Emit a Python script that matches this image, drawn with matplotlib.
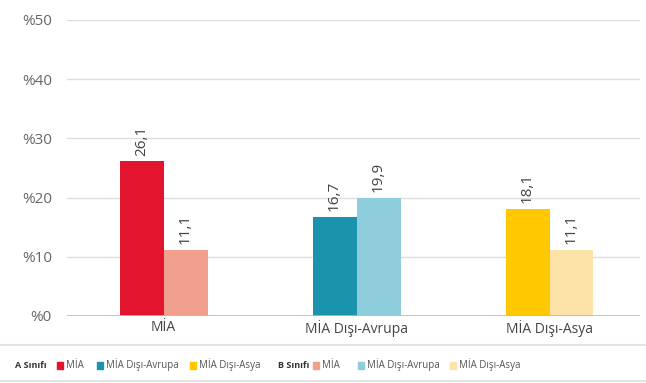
import numpy as np
import matplotlib
matplotlib.use("Agg")
import matplotlib.pyplot as plt
from matplotlib.patches import Rectangle

categories = ["MİA", "MİA Dışı-Avrupa", "MİA Dışı-Asya"]
values_a = [26.1, 16.7, 18.1]
values_b = [11.1, 19.9, 11.1]
colors_a = ["#E3142D", "#1A94AD", "#FFC800"]
colors_b = ["#F0A08C", "#8ECDDB", "#FDE3A8"]
yticks = [0, 10, 20, 30, 40, 50]
ytick_labels = ["%0", "%10", "%20", "%30", "%40", "%50"]
group_names = ["A Sınıfı", "B Sınıfı"]

plt.rcParams["font.family"] = ["Open Sans", "DejaVu Sans"]

fig = plt.figure(figsize=(6.46, 3.83), dpi=100)
ax = fig.add_axes([0.104, 0.175, 0.887, 0.773])

x = np.arange(len(categories))
w = 0.228
bars_a = ax.bar(x - w / 2, values_a, w, color=colors_a, zorder=3)
bars_b = ax.bar(x + w / 2, values_b, w, color=colors_b, zorder=3)

for bars, vals in ((bars_a, values_a), (bars_b, values_b)):
    for b, v in zip(bars, vals):
        ax.text(b.get_x() + b.get_width() / 2, v + 1.0, f"{v:.1f}".replace(".", ","),
                rotation=90, ha="center", va="bottom", fontsize=11, color="#444444")

ax.set_xlim(-0.50, 2.47)
ax.set_ylim(0, 50)
ax.set_yticks(yticks)
ax.set_yticklabels(ytick_labels, fontsize=11, color="#666666")
ax.set_xticks(x)
ax.set_xticklabels(categories, fontsize=10, color="#444444")
ax.tick_params(length=0, axis="y", pad=11)
ax.tick_params(length=0, axis="x", pad=3)
ax.grid(axis="y", color="#DDDDDD", linewidth=1.0, zorder=0)
ax.axhline(0, color="#BBBBBB", linewidth=1.2, zorder=4)
for s in ax.spines.values():
    s.set_visible(False)

# legend strip along the bottom
W, H = 646, 383
fig.add_artist(plt.Line2D([0, 1], [1 - 345 / H, 1 - 345 / H], color="#E4E4E4", linewidth=1.5))
fig.add_artist(plt.Line2D([0, 1], [1 - 381 / H, 1 - 381 / H], color="#E4E4E4", linewidth=1.5))
ly = 1 - 365 / H
title_x = [15, 278]
square_x = [[57, 97, 190], [313, 358, 450]]
for gname, tx, sxs, cols in zip(group_names, title_x, square_x, (colors_a, colors_b)):
    fig.text(tx / W, ly, gname, fontsize=6.5, fontweight="bold", color="#333333", va="center")
    for sx, c, cat in zip(sxs, cols, categories):
        fig.add_artist(Rectangle((sx / W, ly - 3.5 / H), 6 / W, 7 / H, color=c,
                                 transform=fig.transFigure))
        fig.text((sx + 9) / W, ly, cat, fontsize=7, color="#555555", va="center")

fig.savefig("out.png", dpi=100)
